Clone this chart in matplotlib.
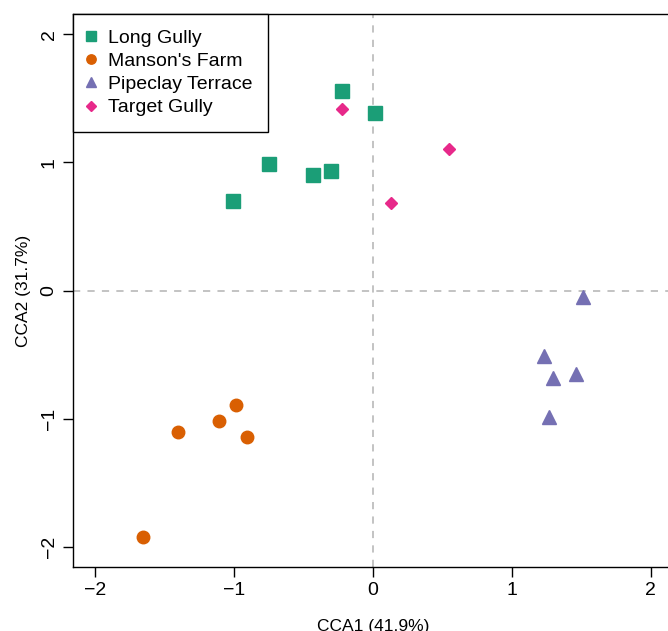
import matplotlib.pyplot as plt
import numpy as np

plt.rcParams['font.family'] = ['Liberation Sans', 'DejaVu Sans']

sites = ["Long Gully", "Manson's Farm", "Pipeclay Terrace", "Target Gully"]
colors = ["#1B9E77", "#D95F02", "#7570B3", "#E7298A"]
markers = ["s", "o", "^", "D"]
sizes = [9.5, 9, 10.5, 6.5]

long_x = [-0.223, 0.014, -0.748, -0.432, -0.302, -1.007]
long_y = [1.562, 1.390, 0.992, 0.906, 0.937, 0.703]
manson_x = [-1.655, -1.403, -1.108, -0.986, -0.906]
manson_y = [-1.922, -1.109, -1.016, -0.898, -1.148]
pipe_x = [1.511, 1.230, 1.295, 1.460, 1.266]
pipe_y = [-0.047, -0.508, -0.687, -0.656, -0.992]
target_x = [-0.223, 0.547, 0.129]
target_y = [1.414, 1.109, 0.680]

xs = [long_x, manson_x, pipe_x, target_x]
ys = [long_y, manson_y, pipe_y, target_y]

fig = plt.figure(figsize=(6.68, 6.31), dpi=100)
# plot region runs slightly past the right edge of the picture
ax = fig.add_axes([73 / 668, 64 / 631, 600 / 668, 553 / 631])

ax.axvline(0, color="#BEBEBE", ls=(0, (4, 4)), lw=1.3, zorder=1)
ax.axhline(0, color="#BEBEBE", ls=(0, (4, 4)), lw=1.3, zorder=1)

for x, y, c, m, s, lab in zip(xs, ys, colors, markers, sizes, sites):
    ax.plot(x, y, ls="none", marker=m, ms=s, color=c, mec=c, label=lab, zorder=3)

ax.set_xlim(-2.16, 2.16)
ax.set_ylim(-2.16, 2.16)
ax.set_xticks([-2, -1, 0, 1, 2])
ax.set_yticks([-2, -1, 0, 1, 2])
ax.set_xticklabels(["\u22122", "\u22121", "0", "1", "2"])
ax.set_yticklabels(["\u22122", "\u22121", "0", "1", "2"], rotation=90, va="center")
ax.tick_params(length=7, width=1, labelsize=14, pad=4)
for sp in ax.spines.values():
    sp.set_linewidth(1)

ax.set_xlabel("CCA1 (41.9%)", fontsize=12.5, labelpad=14)
ax.set_ylabel("CCA2 (31.7%)", fontsize=12.5, labelpad=7)

leg = ax.legend(loc="upper left", borderaxespad=0, fancybox=False, framealpha=1,
                edgecolor="black", fontsize=14, handletextpad=0.7, markerscale=0.75,
                borderpad=0.8, labelspacing=0.28, handlelength=0.3)
leg.get_frame().set_linewidth(1)

fig.savefig("out.png", dpi=100)
